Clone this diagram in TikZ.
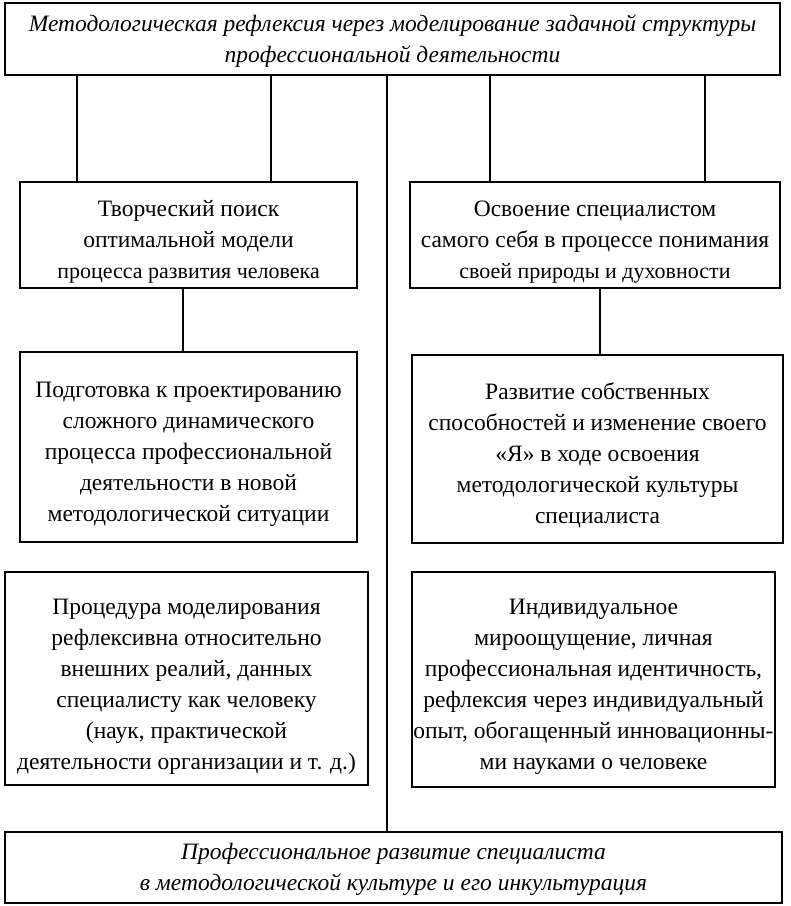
\documentclass[tikz,border=0pt]{standalone}
\usepackage{fontspec}
\setmainfont{Liberation Serif}
\newcommand{\boxfont}{\fontsize{23.5}{31}\selectfont}
\newcommand{\smallline}{\fontsize{22}{31}\selectfont}
\newcommand{\lift}[1]{\rule{0pt}{#1}}

\begin{document}
\begin{tikzpicture}[x=1pt,y=-1pt,
	framebox/.style={draw,line width=1.6pt,rectangle,align=center,inner sep=0pt,font=\boxfont},
	headbox/.style={framebox,line width=2.6pt,font=\boxfont\itshape},
	link/.style={line width=1.2pt}]
	\useasboundingbox (0,0) rectangle (791,906);
	
	\node[headbox,minimum width=775,minimum height=72] at (392.5,39)(head){\lift{21pt}Методологическая рефлексия через моделирование задачной структуры\\профессиональной деятельности};
	
	\node[framebox,minimum width=337,minimum height=106] at (188.5,235)(search){\lift{30pt}Творческий поиск\\оптимальной модели\\{\smallline процесса развития человека}};
	\node[framebox,minimum width=370,minimum height=106] at (595,235)(self){\lift{30pt}Освоение специалистом\\самого себя в процессе понимания\\{\smallline своей природы и духовности}};
	
	\node[framebox,minimum width=337,minimum height=190] at (188.5,447)(design){\lift{31pt}Подготовка к проектированию\\сложного динамического\\процесса профессиональной\\деятельности в новой\\методологической ситуации};
	\node[framebox,minimum width=371,minimum height=188] at (597.5,449)(growth){\lift{30pt}Развитие собственных\\способностей и изменение своего\\«Я» в ходе освоения\\методологической культуры\\специалиста};
	
	\node[framebox,minimum width=363,minimum height=213] at (186.5,678.5)(proc){\lift{31pt}Процедура моделирования\\рефлексивна относительно\\внешних реалий, данных\\специалисту как человеку\\(наук, практической\\деятельности организации и т. д.)};
	\node[framebox,minimum width=363,minimum height=215] at (593.5,679.5)(indiv){\lift{31pt}Индивидуальное\\мироощущение, личная\\профессиональная идентичность,\\рефлексия через индивидуальный\\опыт, обогащенный инновационны-\\ми науками о человеке};
	
	\node[headbox,minimum width=777,minimum height=71] at (393.5,867.5)(result){\lift{21pt}Профессиональное развитие специалиста\\в методологической культуре и его инкультурация};
	
	\coordinate (l1) at (77,0);
	\coordinate (l2) at (271,0);
	\coordinate (r1) at (490,0);
	\coordinate (r2) at (705,0);
	\coordinate (mid) at (387,0);
	\coordinate (cl) at (183,0);
	\coordinate (cr) at (600,0);
	\path[link] (l1|-head.south)edge(l1|-search.north)(l2|-head.south)edge(l2|-search.north);
	\path[link] (r1|-head.south)edge(r1|-self.north)(r2|-head.south)edge(r2|-self.north);
	\path[link] (cl|-search.south)edge(cl|-design.north)(cr|-self.south)edge(cr|-growth.north);
	\path[link] (mid|-head.south)edge(mid|-result.north);
\end{tikzpicture}
\end{document}
